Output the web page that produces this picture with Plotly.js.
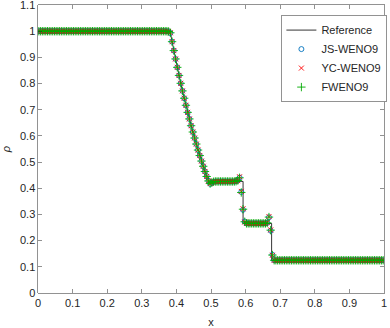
<!DOCTYPE html>
<html>
<head>
<meta charset="utf-8">
<script src="https://cdn.plot.ly/plotly-3.0.1.min.js"></script>
<style>
  html, body { margin: 0; padding: 0; background: #fff; }
  #chart { width: 390px; height: 328px; }
</style>
</head>
<body>
<div id="chart"></div>
<script>
// cell centres (200 cells)
let xCells = [
    0.0025, 0.0075, 0.0125, 0.0175, 0.0225, 0.0275, 0.0325, 0.0375, 0.0425, 0.0475,
    0.0525, 0.0575, 0.0625, 0.0675, 0.0725, 0.0775, 0.0825, 0.0875, 0.0925, 0.0975,
    0.1025, 0.1075, 0.1125, 0.1175, 0.1225, 0.1275, 0.1325, 0.1375, 0.1425, 0.1475,
    0.1525, 0.1575, 0.1625, 0.1675, 0.1725, 0.1775, 0.1825, 0.1875, 0.1925, 0.1975,
    0.2025, 0.2075, 0.2125, 0.2175, 0.2225, 0.2275, 0.2325, 0.2375, 0.2425, 0.2475,
    0.2525, 0.2575, 0.2625, 0.2675, 0.2725, 0.2775, 0.2825, 0.2875, 0.2925, 0.2975,
    0.3025, 0.3075, 0.3125, 0.3175, 0.3225, 0.3275, 0.3325, 0.3375, 0.3425, 0.3475,
    0.3525, 0.3575, 0.3625, 0.3675, 0.3725, 0.3775, 0.3825, 0.3875, 0.3925, 0.3975,
    0.4025, 0.4075, 0.4125, 0.4175, 0.4225, 0.4275, 0.4325, 0.4375, 0.4425, 0.4475,
    0.4525, 0.4575, 0.4625, 0.4675, 0.4725, 0.4775, 0.4825, 0.4875, 0.4925, 0.4975,
    0.5025, 0.5075, 0.5125, 0.5175, 0.5225, 0.5275, 0.5325, 0.5375, 0.5425, 0.5475,
    0.5525, 0.5575, 0.5625, 0.5675, 0.5725, 0.5775, 0.5825, 0.5875, 0.5925, 0.5975,
    0.6025, 0.6075, 0.6125, 0.6175, 0.6225, 0.6275, 0.6325, 0.6375, 0.6425, 0.6475,
    0.6525, 0.6575, 0.6625, 0.6675, 0.6725, 0.6775, 0.6825, 0.6875, 0.6925, 0.6975,
    0.7025, 0.7075, 0.7125, 0.7175, 0.7225, 0.7275, 0.7325, 0.7375, 0.7425, 0.7475,
    0.7525, 0.7575, 0.7625, 0.7675, 0.7725, 0.7775, 0.7825, 0.7875, 0.7925, 0.7975,
    0.8025, 0.8075, 0.8125, 0.8175, 0.8225, 0.8275, 0.8325, 0.8375, 0.8425, 0.8475,
    0.8525, 0.8575, 0.8625, 0.8675, 0.8725, 0.8775, 0.8825, 0.8875, 0.8925, 0.8975,
    0.9025, 0.9075, 0.9125, 0.9175, 0.9225, 0.9275, 0.9325, 0.9375, 0.9425, 0.9475,
    0.9525, 0.9575, 0.9625, 0.9675, 0.9725, 0.9775, 0.9825, 0.9875, 0.9925, 0.9975
];

let jsRho = [
    1, 1, 1, 1, 1, 1, 1, 1, 1, 1,
    1, 1, 1, 1, 1, 1, 1, 1, 1, 1,
    1, 1, 1, 1, 1, 1, 1, 1, 1, 1,
    1, 1, 1, 1, 1, 1, 1, 1, 1, 1,
    1, 1, 1, 1, 1, 1, 1, 1, 1, 1,
    1, 1, 1, 1, 1, 1, 1, 1, 1, 1,
    1, 1, 1, 1, 1, 1, 1, 1, 1, 1,
    1, 1, 1, 1, 1, 0.999, 0.993, 0.960, 0.926, 0.894,
    0.862, 0.831, 0.801, 0.772, 0.744, 0.717, 0.690, 0.665, 0.639, 0.615,
    0.592, 0.569, 0.546, 0.525, 0.504, 0.484, 0.464, 0.446, 0.429, 0.417,
    0.421, 0.425, 0.426, 0.426, 0.426, 0.426, 0.426, 0.426, 0.426, 0.426,
    0.426, 0.426, 0.426, 0.426, 0.427, 0.430, 0.441, 0.386, 0.318, 0.273,
    0.266, 0.266, 0.266, 0.266, 0.266, 0.266, 0.266, 0.266, 0.266, 0.266,
    0.266, 0.266, 0.268, 0.289, 0.238, 0.146, 0.125, 0.125, 0.125, 0.125,
    0.125, 0.125, 0.125, 0.125, 0.125, 0.125, 0.125, 0.125, 0.125, 0.125,
    0.125, 0.125, 0.125, 0.125, 0.125, 0.125, 0.125, 0.125, 0.125, 0.125,
    0.125, 0.125, 0.125, 0.125, 0.125, 0.125, 0.125, 0.125, 0.125, 0.125,
    0.125, 0.125, 0.125, 0.125, 0.125, 0.125, 0.125, 0.125, 0.125, 0.125,
    0.125, 0.125, 0.125, 0.125, 0.125, 0.125, 0.125, 0.125, 0.125, 0.125,
    0.125, 0.125, 0.125, 0.125, 0.125, 0.125, 0.125, 0.125, 0.125, 0.125
];

let ycRho = [
    1, 1, 1, 1, 1, 1, 1, 1, 1, 1,
    1, 1, 1, 1, 1, 1, 1, 1, 1, 1,
    1, 1, 1, 1, 1, 1, 1, 1, 1, 1,
    1, 1, 1, 1, 1, 1, 1, 1, 1, 1,
    1, 1, 1, 1, 1, 1, 1, 1, 1, 1,
    1, 1, 1, 1, 1, 1, 1, 1, 1, 1,
    1, 1, 1, 1, 1, 1, 1, 1, 1, 1,
    1, 1, 1, 1, 1, 0.999, 0.994, 0.960, 0.926, 0.894,
    0.862, 0.831, 0.801, 0.772, 0.744, 0.717, 0.690, 0.665, 0.639, 0.615,
    0.592, 0.569, 0.546, 0.525, 0.504, 0.484, 0.464, 0.445, 0.428, 0.418,
    0.422, 0.425, 0.426, 0.426, 0.426, 0.426, 0.426, 0.426, 0.426, 0.426,
    0.426, 0.426, 0.426, 0.426, 0.427, 0.429, 0.444, 0.388, 0.322, 0.271,
    0.266, 0.266, 0.266, 0.266, 0.266, 0.266, 0.266, 0.266, 0.266, 0.266,
    0.266, 0.266, 0.269, 0.292, 0.241, 0.144, 0.125, 0.125, 0.125, 0.125,
    0.125, 0.125, 0.125, 0.125, 0.125, 0.125, 0.125, 0.125, 0.125, 0.125,
    0.125, 0.125, 0.125, 0.125, 0.125, 0.125, 0.125, 0.125, 0.125, 0.125,
    0.125, 0.125, 0.125, 0.125, 0.125, 0.125, 0.125, 0.125, 0.125, 0.125,
    0.125, 0.125, 0.125, 0.125, 0.125, 0.125, 0.125, 0.125, 0.125, 0.125,
    0.125, 0.125, 0.125, 0.125, 0.125, 0.125, 0.125, 0.125, 0.125, 0.125,
    0.125, 0.125, 0.125, 0.125, 0.125, 0.125, 0.125, 0.125, 0.125, 0.125
];

let fwRho = [
    1, 1, 1, 1, 1, 1, 1, 1, 1, 1,
    1, 1, 1, 1, 1, 1, 1, 1, 1, 1,
    1, 1, 1, 1, 1, 1, 1, 1, 1, 1,
    1, 1, 1, 1, 1, 1, 1, 1, 1, 1,
    1, 1, 1, 1, 1, 1, 1, 1, 1, 1,
    1, 1, 1, 1, 1, 1, 1, 1, 1, 1,
    1, 1, 1, 1, 1, 1, 1, 1, 1, 1,
    1, 1, 1, 1, 1, 0.999, 0.994, 0.960, 0.926, 0.894,
    0.862, 0.831, 0.801, 0.772, 0.744, 0.717, 0.690, 0.665, 0.639, 0.615,
    0.592, 0.569, 0.546, 0.525, 0.504, 0.484, 0.464, 0.445, 0.428, 0.418,
    0.422, 0.425, 0.426, 0.426, 0.426, 0.426, 0.426, 0.426, 0.426, 0.426,
    0.426, 0.426, 0.426, 0.426, 0.427, 0.430, 0.440, 0.384, 0.320, 0.272,
    0.266, 0.266, 0.266, 0.266, 0.266, 0.266, 0.266, 0.266, 0.266, 0.266,
    0.266, 0.266, 0.268, 0.290, 0.240, 0.145, 0.125, 0.125, 0.125, 0.125,
    0.125, 0.125, 0.125, 0.125, 0.125, 0.125, 0.125, 0.125, 0.125, 0.125,
    0.125, 0.125, 0.125, 0.125, 0.125, 0.125, 0.125, 0.125, 0.125, 0.125,
    0.125, 0.125, 0.125, 0.125, 0.125, 0.125, 0.125, 0.125, 0.125, 0.125,
    0.125, 0.125, 0.125, 0.125, 0.125, 0.125, 0.125, 0.125, 0.125, 0.125,
    0.125, 0.125, 0.125, 0.125, 0.125, 0.125, 0.125, 0.125, 0.125, 0.125,
    0.125, 0.125, 0.125, 0.125, 0.125, 0.125, 0.125, 0.125, 0.125, 0.125
];

// reference (exact) solution, break points
let refX = [0, 0.3817, 0.3875, 0.3925, 0.3975, 0.4025, 0.4075, 0.4125, 0.4175, 0.4225,
    0.4275, 0.4325, 0.4375, 0.4425, 0.4475, 0.4525, 0.4575, 0.4625, 0.4675, 0.4725,
    0.4775, 0.4825, 0.4875, 0.4930, 0.5927, 0.5927, 0.6752, 0.6752, 1];
let refRho = [1, 1, 0.960, 0.926, 0.894, 0.862, 0.831, 0.801, 0.772, 0.744,
    0.717, 0.690, 0.665, 0.639, 0.615, 0.592, 0.569, 0.546, 0.525, 0.504,
    0.484, 0.464, 0.445, 0.4263, 0.4263, 0.2656, 0.2656, 0.125, 0.125];

let xTicks = [0, 0.1, 0.2, 0.3, 0.4, 0.5, 0.6, 0.7, 0.8, 0.9, 1];
let yTicks = [0, 0.1, 0.2, 0.3, 0.4, 0.5, 0.6, 0.7, 0.8, 0.9, 1, 1.1];

let axisColor = "#262626";
let font = { family: "Liberation Sans, Arial, sans-serif", size: 11, color: axisColor };

let data = [
    {
        type: "scatter", mode: "lines", name: "Reference",
        x: refX, y: refRho,
        line: { color: "#000", width: 0.8 }
    },
    {
        type: "scatter", mode: "markers", name: "JS-WENO9",
        x: xCells, y: jsRho,
        marker: { symbol: "circle-open", size: 5, color: "#0072BD", line: { width: 0.9 } }
    },
    {
        type: "scatter", mode: "markers", name: "YC-WENO9",
        x: xCells, y: ycRho,
        marker: { symbol: "x-thin-open", size: 5, color: "#FF0000", line: { width: 0.9 } }
    },
    {
        type: "scatter", mode: "markers", name: "FWENO9",
        x: xCells, y: fwRho,
        marker: { symbol: "cross-thin-open", size: 6, color: "#00AA00", line: { width: 0.9 } }
    }
];

let layout = {
    width: 390,
    height: 328,
    margin: { l: 38, r: 3, t: 5, b: 35 },
    paper_bgcolor: "#fff",
    plot_bgcolor: "#fff",
    font: font,
    showlegend: true,
    legend: {
        x: 0.702, y: 0.965, xanchor: "left", yanchor: "top",
        bgcolor: "#fff", bordercolor: axisColor, borderwidth: 0.5,
        font: font, itemwidth: 30
    },
    xaxis: {
        range: [0, 1],
        tickvals: xTicks,
        ticktext: xTicks.map(String),
        ticks: "inside", ticklen: 4, tickwidth: 0.5, tickcolor: axisColor,
        ticklabeloverflow: "allow",
        showline: true, linecolor: axisColor, linewidth: 0.5, mirror: "ticks",
        showgrid: false, zeroline: false,
        title: { text: "x", font: font, standoff: 12 }
    },
    yaxis: {
        range: [0, 1.1001],
        tickvals: yTicks,
        ticktext: yTicks.map(String),
        ticks: "inside", ticklen: 4, tickwidth: 0.5, tickcolor: axisColor,
        ticklabeloverflow: "allow",
        showline: true, linecolor: axisColor, linewidth: 0.5, mirror: "ticks",
        showgrid: false, zeroline: false,
        title: { text: "<i>ρ</i>", font: font, standoff: 6 }
    }
};

Plotly.newPlot("chart", data, layout, { displayModeBar: false, staticPlot: true });
</script>
</body>
</html>
